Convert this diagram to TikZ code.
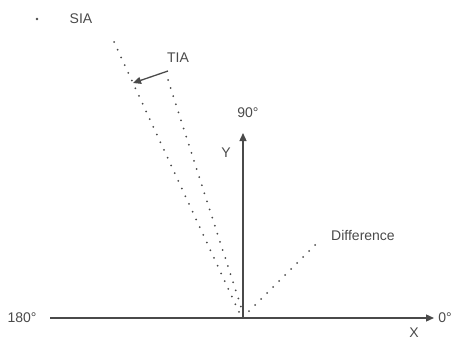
\documentclass[tikz,border=0pt]{standalone}
\usepackage{fontspec}
\setmainfont{Liberation Sans}
\usetikzlibrary{arrows.meta}
\definecolor{ink}{HTML}{4A4A4A}
\tikzset{
  axis/.style={draw=ink, line width=1.3pt, -{Triangle[length=8pt,width=7pt]}},
  dotline/.style={draw=ink, line width=2pt, line cap=round, dash pattern=on 0pt off 8.5pt},
  lbl/.style={text=ink, font=\fontsize{14}{16}\selectfont, inner sep=1pt},
}
\begin{document}
\begin{tikzpicture}[x=1pt,y=-1pt]
\useasboundingbox (0,0) rectangle (453,340);
% coordinates
\coordinate (O) at (243,318);
\coordinate (xl) at (50,318);
\coordinate (xr) at (434,318);
\coordinate (yt) at (243,133);
\coordinate (siaTop) at (114,42);
\coordinate (siaBot) at (239,312);
\coordinate (tiaTop) at (168,80);
\coordinate (tiaBot) at (242,310);
\coordinate (difBot) at (249,311);
\coordinate (difTop) at (317,243);
\coordinate (tiaTip) at (133,83);
\coordinate (tiaStart) at (168,71);
% axes
\draw[axis] (xl) -- (xr);
\draw[axis] (O) -- (yt);
% dotted lines
\draw[dotline] (siaTop) -- (siaBot);
\draw[dotline] (tiaTop) -- (tiaBot);
\draw[dotline] (difBot) -- (difTop);
% labels
\fill[ink] (37,19) circle (1.4pt);
\node[lbl] (sia) at (81,19) {SIA};
\node[lbl] (tia) at (178,58) {TIA};
\draw[axis] (tiaStart) -- (tiaTip);
\node[lbl] (n90) at (248,113) {90°};
\node[lbl] (ylab) at (226,153) {Y};
\node[lbl] (n180) at (22,318) {180°};
\node[lbl] (n0) at (445,318) {0°};
\node[lbl] (xlab) at (414,333) {X};
\node[lbl] (dif) at (363,235) {Difference};
\end{tikzpicture}
\end{document}
